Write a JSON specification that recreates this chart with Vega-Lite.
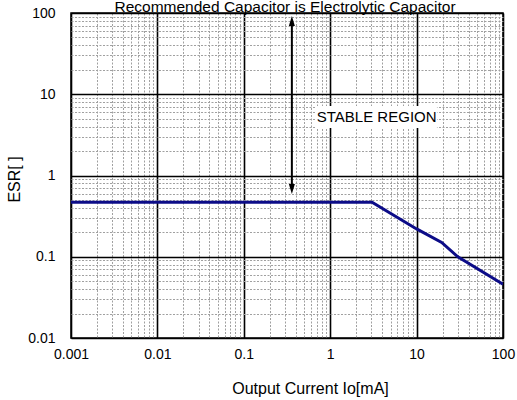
{
  "$schema": "https://vega.github.io/schema/vega-lite/v6.json",
  "width": 432,
  "height": 325,
  "autosize": {"type": "none"},
  "padding": {"left": 71, "top": 13, "right": 14, "bottom": 62},
  "background": "white",
  "config": {
    "view": {"stroke": "black", "strokeWidth": 1.5},
    "axis": {
      "labelFont": "Liberation Sans",
      "titleFont": "Liberation Sans",
      "labelFontSize": 14,
      "titleFontSize": 16,
      "titleFontWeight": "normal",
      "labelColor": "black",
      "titleColor": "black",
      "tickSize": 0,
      "domain": false,
      "labelFlush": false,
      "labelOverlap": false,
      "format": "~g",
      "gridColor": {"condition": {"test": "abs(log(datum.value)/LN10 - round(log(datum.value)/LN10)) < 0.001", "value": "black"}, "value": "#a0a0a0"},
      "gridWidth": {"condition": {"test": "abs(log(datum.value)/LN10 - round(log(datum.value)/LN10)) < 0.001", "value": 1.6}, "value": 1},
      "gridDash": {"condition": {"test": "abs(log(datum.value)/LN10 - round(log(datum.value)/LN10)) < 0.001", "value": []}, "value": [2, 1.5]},
      "gridOpacity": 1,
      "labelExpr": "abs(log(datum.value)/LN10 - round(log(datum.value)/LN10)) < 0.001 ? datum.label : ''"
    }
  },
  "datasets": {
    "curve": [
      {"current": 0.001, "esr": 0.47},
      {"current": 3.05, "esr": 0.47},
      {"current": 10, "esr": 0.22},
      {"current": 19.5, "esr": 0.15},
      {"current": 30, "esr": 0.1},
      {"current": 100, "esr": 0.046}
    ],
    "arrow": [{"current": 0.36, "lo": 0.68, "hi": 79.6}],
    "heads": [
      {"current": 0.36, "esr": 79.6, "dir": "up"},
      {"current": 0.36, "esr": 0.68, "dir": "down"}
    ],
    "box": [{"x1": 0.667, "x2": 17.2, "y1": 3.85, "y2": 7.16}],
    "note": [{"current": 3.45, "esr": 5.25, "text": "STABLE REGION"}],
    "heading": [{"current": 0.3, "esr": 104, "text": "Recommended Capacitor is Electrolytic Capacitor"}]
  },
  "layer": [
    {
      "data": {"name": "box"},
      "mark": {"type": "rect", "color": "white"},
      "encoding": {
        "x": {"field": "x1", "type": "quantitative", "scale": {"type": "log", "domain": [0.001, 100]},
          "axis": {"title": "Output Current Io[mA]", "labelPadding": 9, "titlePadding": 19, "titleX": 239,
            "values": [0.001,0.002,0.003,0.004,0.005,0.006,0.007,0.008,0.009,0.01,0.02,0.03,0.04,0.05,0.06,0.07,0.08,0.09,0.1,0.2,0.3,0.4,0.5,0.6,0.7,0.8,0.9,1,2,3,4,5,6,7,8,9,10,20,30,40,50,60,70,80,90,100]}},
        "x2": {"field": "x2"},
        "y": {"field": "y1", "type": "quantitative", "scale": {"type": "log", "domain": [0.01, 100]},
          "axis": {"title": "ESR[    ]", "labelPadding": 16, "titlePadding": 5, "titleY": 166,
            "values": [0.01,0.02,0.03,0.04,0.05,0.06,0.07,0.08,0.09,0.1,0.2,0.3,0.4,0.5,0.6,0.7,0.8,0.9,1,2,3,4,5,6,7,8,9,10,20,30,40,50,60,70,80,90,100]}},
        "y2": {"field": "y2"}
      }
    },
    {
      "data": {"name": "note"},
      "mark": {"type": "text", "font": "Liberation Sans", "fontSize": 15, "color": "black", "baseline": "middle", "align": "center"},
      "encoding": {
        "x": {"field": "current", "type": "quantitative"},
        "y": {"field": "esr", "type": "quantitative"},
        "text": {"field": "text"}
      }
    },
    {
      "data": {"name": "heading"},
      "mark": {"type": "text", "font": "Liberation Sans", "fontSize": 15.5, "color": "black", "baseline": "alphabetic", "align": "center", "clip": false},
      "encoding": {
        "x": {"field": "current", "type": "quantitative"},
        "y": {"field": "esr", "type": "quantitative"},
        "text": {"field": "text"}
      }
    },
    {
      "data": {"name": "arrow"},
      "mark": {"type": "rule", "color": "black", "strokeWidth": 2},
      "encoding": {
        "x": {"field": "current", "type": "quantitative"},
        "y": {"field": "lo", "type": "quantitative"},
        "y2": {"field": "hi"}
      }
    },
    {
      "data": {"name": "heads"},
      "mark": {"type": "point", "filled": true, "color": "black", "size": 100, "opacity": 1},
      "encoding": {
        "x": {"field": "current", "type": "quantitative"},
        "y": {"field": "esr", "type": "quantitative"},
        "shape": {"field": "dir", "type": "nominal", "legend": null,
          "scale": {"domain": ["up", "down"], "range": ["M0,-1L0.6,1L-0.6,1Z", "M0,1L0.6,-1L-0.6,-1Z"]}}
      }
    },
    {
      "data": {"name": "curve"},
      "mark": {"type": "line", "color": "#0c0c88", "strokeWidth": 3, "clip": true},
      "encoding": {
        "x": {"field": "current", "type": "quantitative"},
        "y": {"field": "esr", "type": "quantitative"}
      }
    }
  ]
}
